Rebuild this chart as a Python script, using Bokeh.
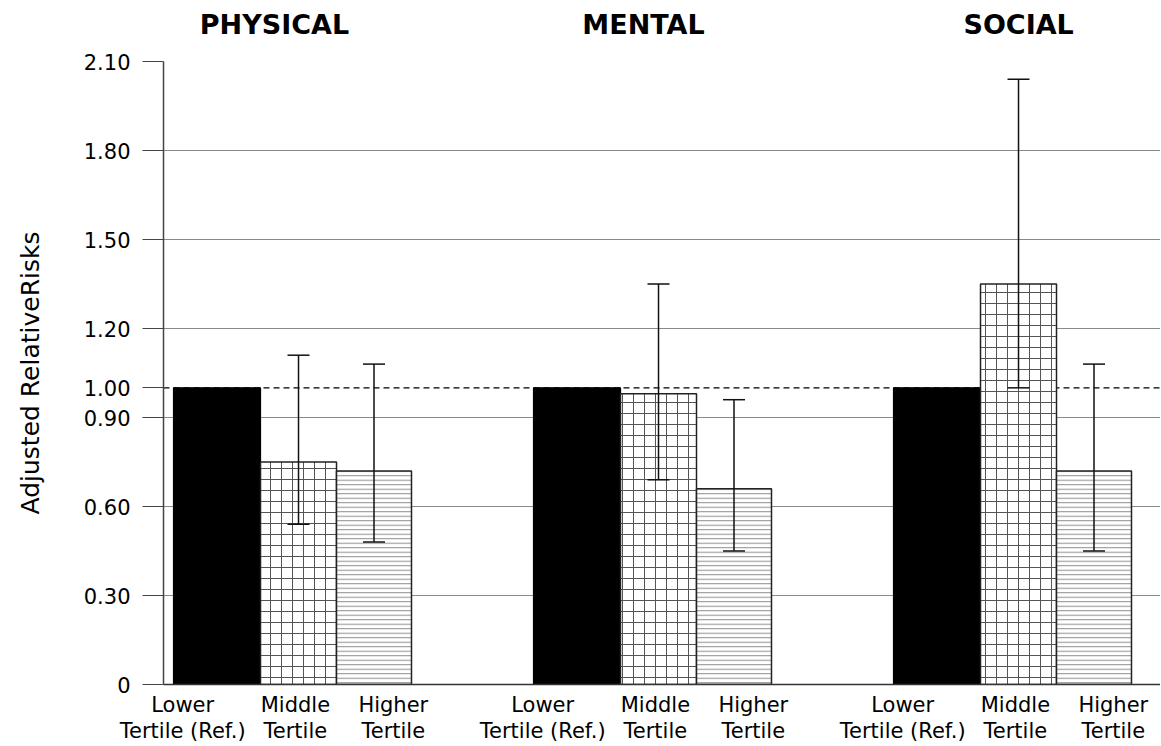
from bokeh.plotting import figure
from bokeh.models import (Range1d, FixedTicker, Span, Whisker, TeeHead,
                          ColumnDataSource, LinearAxis)
from bokeh.embed import file_html
from bokeh.resources import INLINE

# ---- data ----
domains = ["PHYSICAL", "MENTAL", "SOCIAL"]
tertile_labels = ["Lower\nTertile (Ref.)", "Middle\nTertile", "Higher\nTertile"]
lower_rr = [1.00, 1.00, 1.00]
middle_rr = [0.75, 0.98, 1.35]
middle_lo = [0.54, 0.69, 1.00]
middle_hi = [1.11, 1.35, 2.04]
higher_rr = [0.72, 0.66, 0.72]
higher_lo = [0.48, 0.45, 0.45]
higher_hi = [1.08, 0.96, 1.08]
y_ticks = [0, 0.30, 0.60, 0.90, 1.00, 1.20, 1.50, 1.80, 2.10]
y_tick_labels = ["0", "0.30", "0.60", "0.90", "1.00", "1.20", "1.50", "1.80", "2.10"]

FONT = "DejaVu Sans"
g = list(range(len(domains)))

# offsets within a group (group unit = 360 px)
OFF = [-0.2097, 0.0167, 0.2264]
WID = [0.2417, 0.2111, 0.2083]
LBL_OFF = [-0.305, 0.008, 0.28]
TITLE_OFF = [-0.05, -0.025, 0.017]

p = figure(width=1160, height=745, output_backend="svg", toolbar_location=None,
           x_range=Range1d(-0.35833, 2.41111), y_range=Range1d(0, 2.1),
           min_border_left=163, min_border_right=0, min_border_top=61,
           min_border_bottom=61)
p.outline_line_color = None
p.background_fill_color = "white"

# y axis
p.yaxis.ticker = FixedTicker(ticks=y_ticks)
p.yaxis.major_label_overrides = {t: l for t, l in zip(y_ticks, y_tick_labels)}
p.yaxis.major_label_text_font = FONT
p.yaxis.major_label_text_font_size = "21px"
p.yaxis.major_label_text_color = "black"
p.yaxis.major_tick_out = 21
p.yaxis.major_tick_in = 0
p.yaxis.minor_tick_line_color = None
p.yaxis.major_label_standoff = 12
p.yaxis.axis_line_color = "#444444"
p.yaxis.axis_line_width = 1.5
p.yaxis.major_tick_line_color = "#444444"
p.yaxis.axis_label = "Adjusted RelativeRisks"
p.yaxis.axis_label_text_font = FONT
p.yaxis.axis_label_text_font_size = "25px"
p.yaxis.axis_label_text_font_style = "normal"
p.yaxis.axis_label_text_color = "black"
p.yaxis.axis_label_standoff = 36

# x axis (bottom) with category labels
lbl_ticks = []
lbl_over = {}
for i in g:
    for k in range(3):
        t = round(i + LBL_OFF[k], 4)
        lbl_ticks.append(t)
        lbl_over[t] = tertile_labels[k]
p.xaxis.ticker = FixedTicker(ticks=lbl_ticks)
p.xaxis.major_label_overrides = lbl_over
p.xaxis.major_tick_line_color = None
p.xaxis.minor_tick_line_color = None
p.xaxis.major_tick_out = 0
p.xaxis.major_tick_in = 0
p.xaxis.major_label_standoff = 8
p.xaxis.major_label_text_font = FONT
p.xaxis.major_label_text_font_size = "21px"
p.xaxis.major_label_text_line_height = 1.1
p.xaxis.major_label_text_color = "black"
p.xaxis.axis_line_color = "#333333"
p.xaxis.axis_line_width = 1.5

# top axis with domain titles
title_ticks = [round(i + TITLE_OFF[i], 4) for i in g]
top = LinearAxis(ticker=FixedTicker(ticks=title_ticks),
                 major_label_overrides={t: n for t, n in zip(title_ticks, domains)},
                 axis_line_color=None, major_tick_line_color=None,
                 minor_tick_line_color=None, major_tick_out=0, major_tick_in=0,
                 major_label_standoff=22, major_label_text_font=FONT,
                 major_label_text_font_style="bold",
                 major_label_text_font_size="27px",
                 major_label_text_color="black")
p.add_layout(top, "above")

p.xgrid.visible = False
p.ygrid.ticker = FixedTicker(ticks=[t for t in y_ticks if t not in (0, 1.0)])
p.ygrid.grid_line_color = "#8a8a8a"
p.ygrid.grid_line_width = 1

ref = Span(location=1.0, dimension="width", line_color="black",
           line_dash="6 4", line_width=1.2, level="underlay")
p.add_layout(ref)

# bars
xs_low = [i + OFF[0] for i in g]
xs_mid = [i + OFF[1] for i in g]
xs_hi = [i + OFF[2] for i in g]

p.vbar(x=xs_low, top=lower_rr, width=WID[0], bottom=0, fill_color="black",
       line_color="black", line_width=1.2)
p.vbar(x=xs_mid, top=middle_rr, width=WID[1], bottom=0, fill_color="white",
       hatch_pattern="+", hatch_scale=11, hatch_color="#555555", hatch_weight=1,
       line_color="#222222", line_width=1.5)
p.vbar(x=xs_hi, top=higher_rr, width=WID[2], bottom=0, fill_color="white",
       hatch_pattern="-", hatch_scale=4.5, hatch_color="#8c8c8c", hatch_weight=1,
       line_color="#222222", line_width=1.5)

# error bars
err = ColumnDataSource(dict(x=xs_mid + xs_hi, lo=middle_lo + higher_lo,
                            hi=middle_hi + higher_hi))
w = Whisker(base="x", upper="hi", lower="lo", source=err, line_width=1.5,
            line_color="#111111", level="overlay",
            upper_head=TeeHead(size=22, line_width=1.5, line_color="#111111"),
            lower_head=TeeHead(size=22, line_width=1.5, line_color="#111111"))
p.add_layout(w)

open("out.html", "w").write(file_html(p, INLINE))
